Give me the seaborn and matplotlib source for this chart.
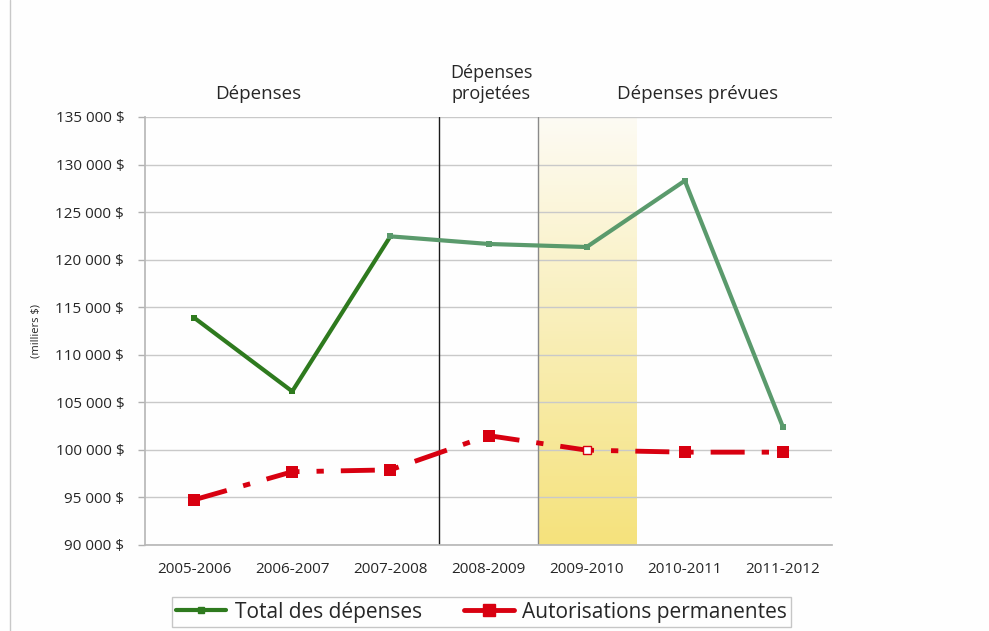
import numpy as np
import pandas as pd
import matplotlib.pyplot as plt
import seaborn as sb
from matplotlib.colors import LinearSegmentedColormap
from matplotlib.lines import Line2D

years = ["2005-2006", "2006-2007", "2007-2008", "2008-2009",
         "2009-2010", "2010-2011", "2011-2012"]
total = [113900, 106150, 122450, 121650, 121330, 128300, 102400]
autoris = [94750, 97700, 97900, 101500, 99970, 99760, 99760]
yticks = [90000, 95000, 100000, 105000, 110000, 115000, 120000, 125000, 130000, 135000]

df = pd.DataFrame({"pos": np.arange(len(years)), "annee": years,
                   "total": total, "autoris": autoris})

sb.set_theme(style="white")
plt.rcParams['font.family'] = ['Open Sans', 'DejaVu Sans']

fig = plt.figure(figsize=(9.89, 6.31), dpi=100, facecolor="#fefefe")
ax = fig.add_axes([0.1466, 0.1363, 0.6947, 0.6783])
ax.set_facecolor("#fefefe")

# yellow gradient band (2009-2010)
cmap = LinearSegmentedColormap.from_list("band", ["#f5e27c", "#fdfbf4"])
grad = np.linspace(0, 1, 256).reshape(-1, 1)
ax.imshow(grad, cmap=cmap, aspect="auto", origin="lower",
          extent=[3.5, 4.5, 90000, 135000], zorder=0.5)

for y in yticks:
    ax.axhline(y, color="#c9c9c9", lw=1, zorder=0.6)

ax.axvline(2.5, color="#1a1a1a", lw=1, zorder=1)
ax.axvline(3.5, color="#8a8a8a", lw=1, zorder=1)

# total spending: actual (dark) then projected/planned (lighter)
sb.lineplot(data=df.iloc[:3], x="pos", y="total", ax=ax, color="#2e7a1e", lw=3,
            marker="s", markersize=4, markeredgewidth=0, zorder=3)
sb.lineplot(data=df.iloc[2:], x="pos", y="total", ax=ax, color="#5a9a6c", lw=3,
            marker="s", markersize=4, markeredgewidth=0, zorder=3)

red = "#d80010"
sb.lineplot(data=df, x="pos", y="autoris", ax=ax, color=red, lw=3.5,
            dashes=False, zorder=4)
ax.lines[-1].set_dashes([7, 3.5, 1.5, 3.5])
full = df.drop(index=4)
sb.scatterplot(data=full, x="pos", y="autoris", ax=ax, color=red, marker="s",
               s=80, linewidth=0, zorder=5)
ax.plot(4, autoris[4], marker="s", markersize=6, markerfacecolor="white",
        markeredgecolor=red, markeredgewidth=1, zorder=6)

ax.set_xlim(-0.5, 6.5)
ax.set_ylim(90000, 135000)
ax.set_yticks(yticks)
ax.set_yticklabels([f"{v:,} $".replace(",", " ") for v in yticks], fontsize=11)
ax.set_xticks(df["pos"])
ax.set_xticklabels(years, fontsize=11)
ax.set_xticks(np.arange(-0.5, 7, 1), minor=True)
ax.tick_params(axis="x", which="major", length=0, pad=12)
ax.tick_params(axis="x", which="minor", length=5, color="#b0b0b0", width=1, direction="out")
ax.tick_params(axis="y", length=5, color="#b0b0b0", width=1, direction="out", left=True, pad=10)
ax.set_xlabel("")
ax.set_ylabel("(milliers $)", fontsize=8)
ax.yaxis.set_label_coords(-0.15, 0.5)

for side in ["top", "right"]:
    ax.spines[side].set_visible(False)
for side in ["left", "bottom"]:
    ax.spines[side].set_color("#b8b8b8")

ax.text(0.65, 136500, "Dépenses", ha="center", va="bottom", fontsize=13.5)
ax.text(3.03, 136500, "Dépenses\nprojetées", ha="center", va="bottom", fontsize=13,
        linespacing=1.2)
ax.text(5.13, 136500, "Dépenses prévues", ha="center", va="bottom", fontsize=13.5)

handles = [Line2D([], [], color="#2e7a1e", lw=3, marker="s", markersize=4),
           Line2D([], [], color=red, lw=3.5, marker="s", markersize=9)]
leg = fig.legend(handles, ["Total des dépenses", "Autorisations permanentes"],
                 loc="center", bbox_to_anchor=(0.487, 0.03), ncol=2, fontsize=15,
                 frameon=True, fancybox=False, edgecolor="#b8b8b8",
                 handlelength=2.4, handletextpad=0.4, columnspacing=2.0, borderpad=0.2)

fig.add_artist(Line2D([0.0105, 0.0105], [0, 1], color="#c8c8c8", lw=1))

plt.savefig("out.png", dpi=100, facecolor=fig.get_facecolor())
